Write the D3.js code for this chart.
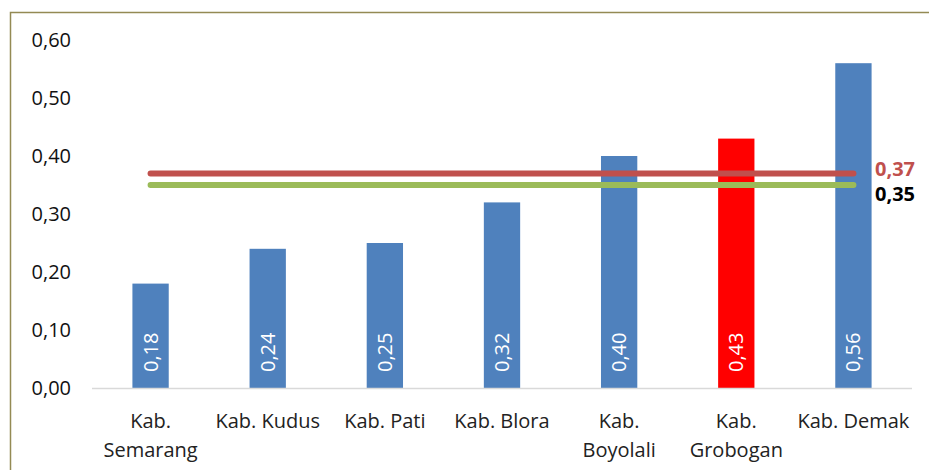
<!DOCTYPE html>
<html>
<head>
<meta charset="utf-8">
<script src="https://cdn.jsdelivr.net/npm/d3@7"></script>
<style>
  body { margin: 0; background: #fff; }
  svg { display: block; font-family: "Open Sans", "Noto Sans", sans-serif; }
</style>
</head>
<body>
<div id="chart"></div>
<script>
// data
var categories = ["Kab. Semarang", "Kab. Kudus", "Kab. Pati", "Kab. Blora", "Kab. Boyolali", "Kab. Grobogan", "Kab. Demak"];
var catLines = [["Kab.", "Semarang"], ["Kab. Kudus"], ["Kab. Pati"], ["Kab. Blora"], ["Kab.", "Boyolali"], ["Kab.", "Grobogan"], ["Kab. Demak"]];
var values = [0.18, 0.24, 0.25, 0.32, 0.40, 0.43, 0.56];
var highlight = "Kab. Grobogan";
var refLines = [
    { value: 0.37, label: "0,37", colour: "#C0504D", text: "#C0504D", dy: 3 },
    { value: 0.35, label: "0,35", colour: "#9BBB59", text: "#000000", dy: 16 }
];
var yTicks = [0, 0.1, 0.2, 0.3, 0.4, 0.5, 0.6];

var width = 929, height = 470;
var fmt = function(v) { return d3.format(".2f")(v).replace(".", ","); };

var svg = d3.select("#chart").append("svg")
    .attr("width", width)
    .attr("height", height);

// outer frame (only left and top visible)
svg.append("rect")
    .attr("x", 10.5).attr("y", 12.5)
    .attr("width", 940).attr("height", 480)
    .attr("fill", "none")
    .attr("stroke", "#948A54")
    .attr("stroke-width", 1.5);

var x = d3.scaleBand()
    .domain(categories)
    .range([92, 912])
    .paddingInner(0.69)
    .paddingOuter(0.345);

var y = d3.scaleLinear()
    .domain([0, 0.6])
    .range([388, 40]);

// y axis labels
var yAxis = svg.append("g")
    .attr("transform", "translate(71,0)")
    .call(d3.axisLeft(y).tickValues(yTicks).tickFormat(fmt).tickSize(0).tickPadding(0));
yAxis.select(".domain").remove();
yAxis.selectAll("text")
    .attr("font-size", "20px")
    .attr("font-family", "'Open Sans', 'Noto Sans', sans-serif")
    .attr("fill", "#111");

// bars
svg.selectAll("rect.bar")
    .data(values)
    .enter().append("rect")
    .attr("class", "bar")
    .attr("x", function(d, i) { return x(categories[i]); })
    .attr("y", function(d) { return y(d); })
    .attr("width", x.bandwidth())
    .attr("height", function(d) { return y(0) - y(d); })
    .attr("fill", function(d, i) { return categories[i] == highlight ? "#FF0000" : "#4F81BD"; });

// baseline
svg.append("line")
    .attr("x1", 92).attr("x2", 912)
    .attr("y1", y(0) + 0.5).attr("y2", y(0) + 0.5)
    .attr("stroke", "#D9D9D9")
    .attr("stroke-width", 1.5);

// value labels inside bars (rotated)
svg.selectAll("text.val")
    .data(values)
    .enter().append("text")
    .attr("class", "val")
    .attr("transform", function(d, i) {
        var cx = x(categories[i]) + x.bandwidth() / 2;
        return "translate(" + (cx + 7) + "," + (y(0) - 16) + ") rotate(-90)";
    })
    .attr("text-anchor", "start")
    .attr("font-size", "20px")
    .attr("fill", "#fff")
    .text(function(d) { return fmt(d); });

// reference lines
var xStart = x(categories[0]) + x.bandwidth() / 2;
var xEnd = x(categories[categories.length - 1]) + x.bandwidth() / 2;
refLines.forEach(function(r) {
    svg.append("line")
        .attr("x1", xStart).attr("x2", xEnd)
        .attr("y1", y(r.value)).attr("y2", y(r.value))
        .attr("stroke", r.colour)
        .attr("stroke-width", 6)
        .attr("stroke-linecap", "round");
    svg.append("text")
        .attr("x", 875)
        .attr("y", y(r.value) + r.dy)
        .attr("font-size", "20px")
        .attr("font-weight", "bold")
        .attr("fill", r.text)
        .text(r.label);
});

// category labels
catLines.forEach(function(lines, i) {
    var cx = x(categories[i]) + x.bandwidth() / 2;
    var t = svg.append("text")
        .attr("x", cx)
        .attr("y", 428)
        .attr("text-anchor", "middle")
        .attr("font-size", "20px")
        .attr("fill", "#222");
    lines.forEach(function(l, j) {
        t.append("tspan")
            .attr("x", cx)
            .attr("dy", j == 0 ? 0 : 29)
            .text(l);
    });
});
</script>
</body>
</html>
